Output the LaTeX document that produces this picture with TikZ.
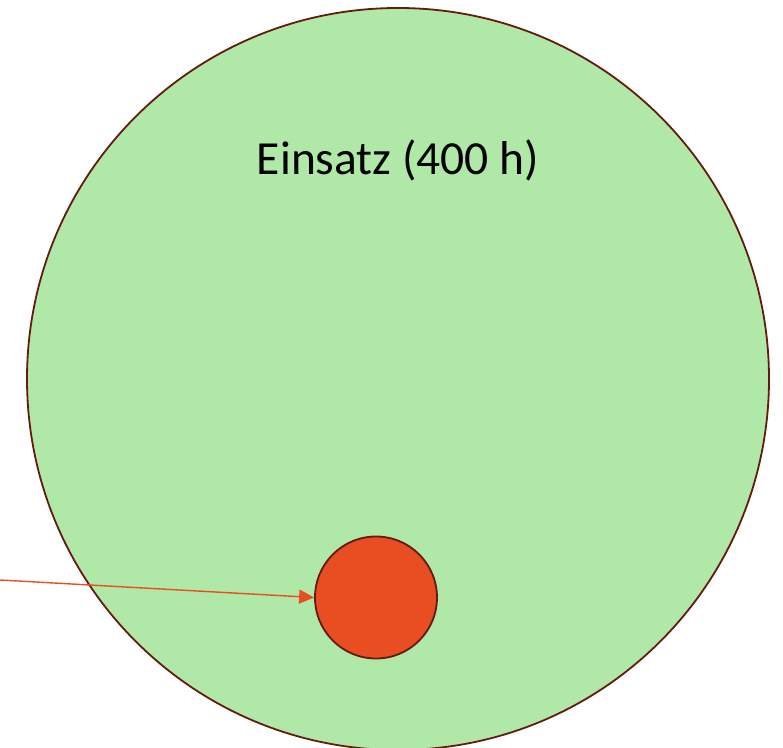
\documentclass[tikz,border=0pt]{standalone}
\usepackage{fontspec}
\setmainfont{Carlito}
\usetikzlibrary{arrows.meta,positioning}
\definecolor{EffortGreen}{HTML}{B0E8A7}
\definecolor{EffortRim}{HTML}{641A0C}
\definecolor{EffortRed}{HTML}{E84E22}

\begin{document}
\begin{tikzpicture}[x=1pt,y=1pt,>=Latex]
\tikzset{
  whole/.style={circle,draw=EffortRim,line width=1.8pt,fill=EffortGreen,
                minimum size=742pt,inner sep=0pt},
  part/.style={circle,draw=EffortRim,line width=1.8pt,fill=EffortRed,
               minimum size=122pt,inner sep=0pt},
  label/.style={font=\fontsize{47.5}{57}\selectfont,text=black},
  pointer/.style={EffortRed,line width=1.4pt,-{Triangle[length=15pt,width=14pt]}}
}
\useasboundingbox (0,0) rectangle (783,747);

% ---------- the two circles ----------------------------------------------
\node[whole] (einsatz) at (398,368) {};
\node[part] (anteil) at (376,149.5) {};
\node[label] (einsatzlab) at (398,587) {Einsatz (400 h)};

% ---------- pointer from outside -----------------------------------------
\coordinate (src) at (0,167);
\draw[pointer] (src) -- (anteil.west);
\end{tikzpicture}
\end{document}
